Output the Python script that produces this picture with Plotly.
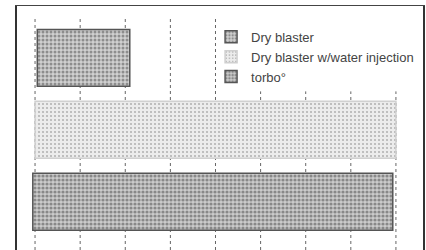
import plotly.graph_objects as go

series_names = ["Dry blaster", "Dry blaster w/water injection", "torbo°"]
series_values = [2.05, 8.0, 7.98]
series_starts = [0.05, 0.0, -0.05]
row_positions = [0, 1, 2]
grid_ticks = [0, 1, 2, 3, 4, 5, 6, 7, 8]

bg_colors = ["#d0d0d0", "#ececec", "#cbcbcb"]
fg_colors = ["#4a4a4a", "#7a7a7a", "#454545"]
solidities = [0.45, 0.22, 0.5]
line_colors = ["#555555", "#d0d0d0", "#555555"]

fig = go.Figure()
for name, val, start, pos, bg, fg, sol, lc in zip(series_names, series_values, series_starts,
                                                   row_positions, bg_colors, fg_colors, solidities, line_colors):
    fig.add_trace(go.Bar(
        y=[pos], x=[val], base=[start], name=name, legendgroup=name, orientation="h", width=0.79,
        marker=dict(color=bg, line=dict(color=lc, width=1.5),
                    pattern=dict(shape=".", fgcolor=fg, bgcolor=bg, size=4, solidity=sol)),
    ))

# dotted vertical grid lines at the tick values; the ones under the legend panel stop below it
for t in grid_ticks:
    top = 0.952 if t < 5 else 0.65
    fig.add_shape(type="line", xref="x", yref="paper", x0=t, x1=t, y0=0, y1=top,
                  line=dict(color="#666666", width=1, dash="dot"), layer="below")

fig.update_layout(
    width=426, height=250,
    margin=dict(l=17, r=3, t=6, b=0),
    paper_bgcolor="white", plot_bgcolor="white",
    barmode="overlay",
    showlegend=True,
    legend=dict(x=0.478, y=0.935, xanchor="left", yanchor="top", bgcolor="rgba(0,0,0,0)",
                font=dict(family="Liberation Sans", size=13, color="#444444"),
                traceorder="normal", itemwidth=30, tracegroupgap=8),
    font=dict(family="Liberation Sans"),
)
fig.update_xaxes(range=[-0.4, 8.6], tickvals=grid_ticks, showticklabels=False, ticks="",
                 showgrid=False,
                 showline=True, linecolor="#444444", linewidth=1.2, mirror=True, zeroline=False)
fig.update_yaxes(range=[2.67, -0.72], showticklabels=False, ticks="", showgrid=False,
                 showline=True, linecolor="#333333", linewidth=1.5, mirror=True, zeroline=False)

fig.write_html("out.html", post_script="document.body.style.margin='0';",
               config={"displayModeBar": False})
